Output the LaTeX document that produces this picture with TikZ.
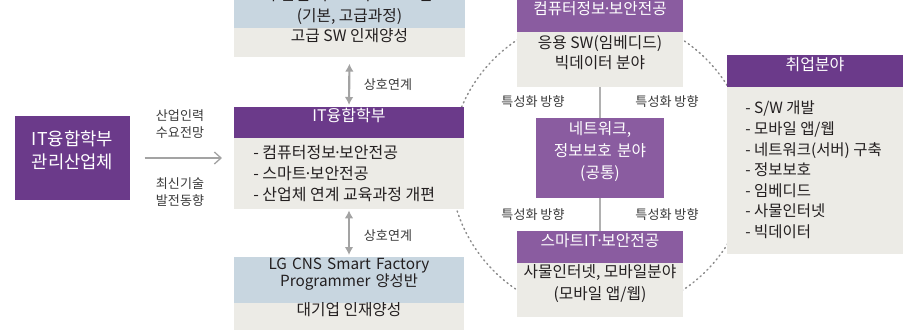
\documentclass[tikz,border=0pt]{standalone}
\usepackage{fontspec}
\setmainfont{Noto Sans CJK KR}
\usetikzlibrary{fit,arrows.meta}
\definecolor{dpurple}{HTML}{6B3A8A}
\definecolor{lpurple}{HTML}{8A5CA0}
\definecolor{bluegray}{HTML}{C8D6E0}
\definecolor{lgray}{HTML}{ECEBE6}
\definecolor{txt}{HTML}{231F20}
\definecolor{labtxt}{HTML}{3A3A3A}
\definecolor{arrgray}{HTML}{A3A3A3}
\definecolor{linegray}{HTML}{B0B0B0}
\definecolor{dotgray}{HTML}{8C8C8C}
\newcommand{\mdot}{\kern-0.18em·\kern-0.18em}
\begin{document}
\begin{tikzpicture}[x=0.75pt,y=-0.75pt,
  panel/.style={inner sep=0pt,outer sep=0pt,draw=none},
  dhead/.style={panel,fill=dpurple,text=white,font=\fontsize{12}{14}\selectfont},
  lhead/.style={panel,fill=lpurple,text=white,font=\fontsize{11.8}{14}\selectfont},
  graybody/.style={panel,fill=lgray,text=txt,font=\fontsize{11.8}{15.75}\selectfont,align=center},
  bluebody/.style={panel,fill=bluegray,text=txt},
  listtext/.style={inner sep=0pt,anchor=west,align=left,text=txt,font=\fontsize{12}{15.75}\selectfont},
  lab/.style={inner sep=0pt,text=labtxt,align=center,font=\fontsize{9.8}{12.75}\selectfont},
  dblarrow/.style={draw=arrgray,line width=1.6pt,{Latex[length=6pt,width=6.5pt]}-{Latex[length=6pt,width=6.5pt]}},
  feedarrow/.style={draw=arrgray,line width=1pt,-{Straight Barb[length=5pt,width=9pt]}},
  vline/.style={draw=linegray,line width=0.9pt},
  dotcircle/.style={draw=dotgray,line width=1.1pt,dash pattern=on 0.9pt off 2.6pt,line cap=round}
]
\useasboundingbox (0,0) rectangle (903,329);
\clip (0,0) rectangle (903,329);

% dotted circle (behind everything)
\draw[dotcircle] (600,165) circle [radius=112.5pt];

% left box
\node[panel,fill=dpurple,fit={(15,116)(130,200)},text=white,align=center,
      font=\fontsize{13.3}{17.25}\selectfont] (ind) {IT융합학부\\관리산업체};

% top column block
\node[bluebody,fit={(234,-40)(465,28)}] (topblue) {};
\node[inner sep=0pt,text=txt,align=center,font=\fontsize{11.8}{15.75}\selectfont] (toptext) at (349.5,6.5) {수준별 기초교육 프로그램\\(기본, 고급과정)};
\node[graybody,fit={(234,28)(465,57)}] (topgray) {고급 SW 인재양성};

% IT faculty
\node[dhead,fit={(234,107)(464,138)}] (ithead) {IT융합학부};
\node[graybody,fit={(234,138)(464,209)}] (itbody) {};
\node[listtext] (itlist) at (253,174) {- 컴퓨터정보\mdot 보안전공\\- 스마트\mdot 보안전공\\- 산업체 연계 교육과정 개편};

% LG CNS
\node[bluebody,fit={(234,257)(464,303)},align=center,font=\fontsize{11.5}{12.75}\selectfont] (lgblue) {LG CNS Smart Factory\\Programmer 양성반};
\node[graybody,fit={(234,303)(464,330)}] (lggray) {대기업 인재양성};

% arrows middle column
\draw[dblarrow,shorten <=5pt,shorten >=1.5pt] (topgray.south) -- (ithead.north);
\draw[dblarrow,shorten <=1pt,shorten >=1.5pt] (itbody.south) -- (lgblue.north);
\node[lab] (l1) at (388,85) {상호연계};
\node[lab] (l2) at (388,236) {상호연계};

% feed arrow
\draw[feedarrow,shorten <=11pt,shorten >=9pt] (ind.east |- 0,158) -- (itbody.west |- 0,158);
\node[lab] (l3) at (180,124) {산업인력\\수요전망};
\node[lab] (l4) at (180,192) {최신기술\\발전동향};

% right circle content
\node[lhead,fit={(517,-2)(683,32)}] (cshead) {컴퓨터정보\mdot 보안전공};
\node[graybody,fit={(517,32)(683,87)},font=\fontsize{11.8}{15}\selectfont] (csbody) {응용 SW(임베디드)\\빅데이터 분야};
\node[lhead,fit={(536,118)(664,198)},align=center,font=\fontsize{11.8}{16.5}\selectfont] (net) {네트워크,\\정보보호 분야\\(공통)};
\node[lhead,fit={(517,231)(683,263)}] (smhead) {스마트IT\mdot 보안전공};
\node[graybody,fit={(517,263)(683,317)},font=\fontsize{11.8}{16.5}\selectfont] (smbody) {사물인터넷, 모바일분야\\(모바일 앱/웹)};

\draw[vline] (csbody.south) -- (net.north);
\draw[vline] (net.south) -- (smhead.north);

\node[lab] (s1) at (533,102) {특성화 방향};
\node[lab] (s2) at (667,102) {특성화 방향};
\node[lab] (s3) at (533,215) {특성화 방향};
\node[lab] (s4) at (667,215) {특성화 방향};

% jobs
\node[dhead,fit={(727,55)(903,87)}] (jobhead) {취업분야};
\node[graybody,fit={(727,87)(903,254)}] (jobbody) {};
\node[listtext,font=\fontsize{11.6}{15.45}\selectfont] (joblist) at (745,170) {- S/W 개발\\- 모바일 앱/웹\\- 네트워크(서버) 구축\\- 정보보호\\- 임베디드\\- 사물인터넷\\- 빅데이터};
\end{tikzpicture}
\end{document}
